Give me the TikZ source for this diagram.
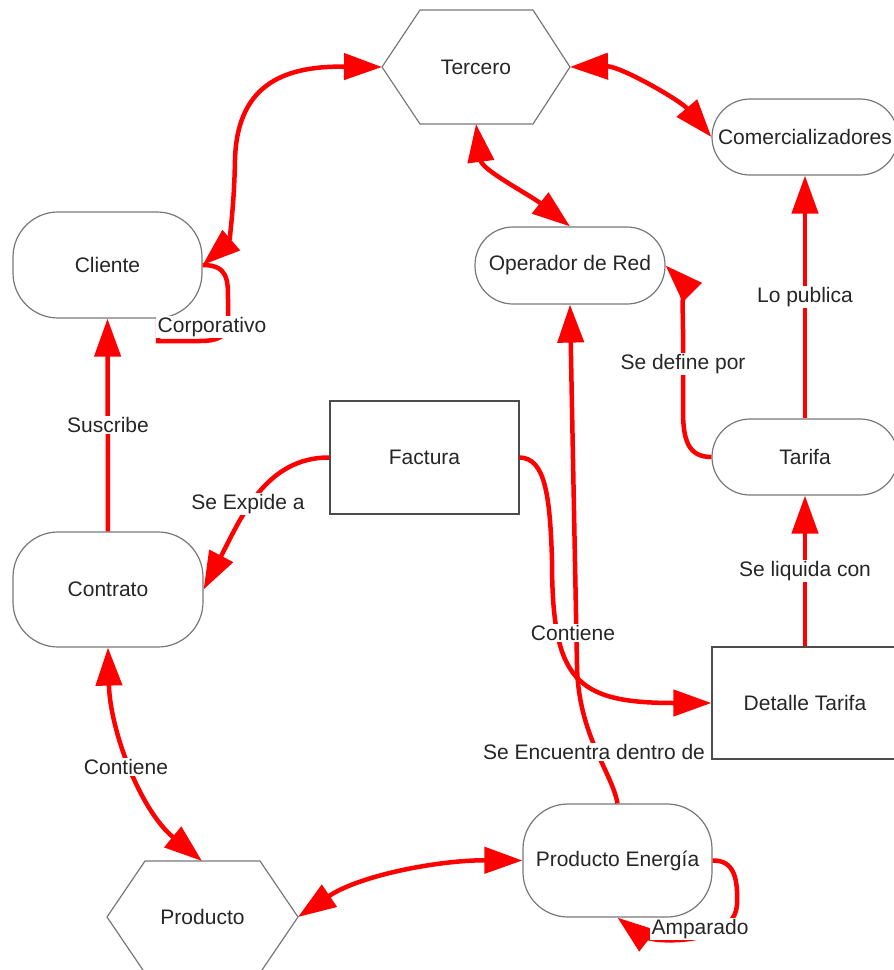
\documentclass[tikz,border=0pt]{standalone}
\usepackage{fontspec}
\setmainfont{Liberation Sans}
\usetikzlibrary{arrows.meta,calc}

\definecolor{rel}{RGB}{255,0,0}
\definecolor{frame}{RGB}{120,120,120}

\tikzset{
  every node/.style={font=\fontsize{21}{25}\selectfont, text=black!85},
  roundbox/.style={draw=frame, line width=1.2pt, fill=white, rounded corners=#1,
    inner sep=0pt, anchor=center},
  roundbox/.default=45pt,
  plainbox/.style={draw=black!70, line width=1.2pt, fill=white, inner sep=0pt, anchor=center},
  hexshape/.style={draw=frame, line width=1.2pt, fill=white},
  edge/.style={draw=rel, line width=4.5pt},
  tip/.style={-{Triangle[length=38pt,width=26pt]}},
  bitip/.style={{Triangle[length=38pt,width=26pt]}-{Triangle[length=38pt,width=26pt]}},
  rlabel/.style={fill=white, inner sep=1.5pt}
}

\begin{document}
\begin{tikzpicture}[x=1pt,y=-1pt]
\useasboundingbox (0,0) rectangle (894,970);
\clip (0,0) rectangle (894,970);

% hexagons
\draw[hexshape] (382,67) -- (420,10) -- (533,10) -- (570,67) -- (533,124) -- (420,124) -- cycle;
\node (tercero) at (476,67) {Tercero};
\coordinate (terW) at (382,67);
\coordinate (terE) at (570,67);
\coordinate (terS) at (476,124);

\draw[hexshape] (107,917) -- (145,861) -- (260,861) -- (298,917) -- (260,973) -- (145,973) -- cycle;
\node (producto) at (202.5,917) {Producto};
\coordinate (prodN) at (202,861);
\coordinate (prodE) at (298,917);

% rounded boxes
\node[roundbox, minimum width=189pt, minimum height=106pt] (cliente) at (107.5,265) {Cliente};
\node[roundbox, minimum width=190pt, minimum height=115pt] (contrato) at (108,589.5) {Contrato};
\node[roundbox=38pt, minimum width=190pt, minimum height=77pt] (opr) at (570,265.5) {Operador de Red};
\node[roundbox=38pt, minimum width=186pt, minimum height=76pt] (comerc) at (805,137) {Comercializadores};
\node[roundbox=38pt, minimum width=186pt, minimum height=76pt] (tarifa) at (805,457) {Tarifa};
\node[roundbox, minimum width=189pt, minimum height=113pt] (pe) at (617.5,860.5) {Producto Energía};

% plain boxes
\node[plainbox, minimum width=189pt, minimum height=113pt] (factura) at (424.5,457.5) {Factura};
\node[plainbox, minimum width=186pt, minimum height=112pt] (detalle) at (805,703) {Detalle Tarifa};

\coordinate (cliLoop) at (158,318);

% relations
\draw[edge,bitip] (terW) .. controls (290,66) and (237,80) .. (235,160)
  .. controls (234,215) and (228,243) .. (cliente.east);
\draw[edge] (cliente.east) .. controls (228,265) and (228,280) .. (228,300) -- (228,322)
  .. controls (228,338) and (215,341) .. (200,341) -- (158,341) -- (cliLoop);
\draw[edge,tip] (contrato.north) -- (cliente.south);
\draw[edge,tip] (factura.west) .. controls (265,457) and (240,520) .. (contrato.east);
\draw[edge,bitip] (contrato.south) .. controls (110,730) and (140,810) .. (prodN);
\draw[edge,bitip] (prodE) .. controls (360,875) and (440,860) .. (pe.west);
\draw[edge,tip] (pe.east) .. controls (735,860) and (738,880) .. (737,905)
  .. controls (735,935) and (690,942) .. (660,940) .. controls (648,939) and (640,935) .. (pe.south);
\draw[edge,tip] (pe.north) .. controls (612,772) and (578,735) .. (577,665) -- (opr.south);
\draw[edge,tip] (factura.east) .. controls (545,458) and (550,495) .. (552,560)
  .. controls (552,680) and (575,703) .. (detalle.west);
\draw[edge,tip] (detalle.north) -- (tarifa.south);
\draw[edge,tip] (tarifa.north) -- (comerc.south);
\draw[edge,tip] (tarifa.west) .. controls (688,457) and (683,440) .. (683,410) -- (683,330)
  .. controls (683,305) and (680,280) .. (opr.east);
\draw[edge,bitip] (terE) .. controls (620,66) and (680,100) .. (comerc.west);
\draw[edge,bitip] (terS) .. controls (482,170) and (530,195) .. (opr.north);

% relation labels
\node[rlabel] (lCorp) at (212,327) {Corporativo};
\node[rlabel] (lSus) at (108,425) {Suscribe};
\node[rlabel] (lExp) at (248,504) {Se Expide a};
\node[rlabel] (lCont1) at (126,767) {Contiene};
\node[rlabel] (lCont2) at (573,633) {Contiene};
\node[rlabel] (lEnc) at (594,752) {Se Encuentra dentro de};
\node[rlabel] (lDef) at (683,364) {Se define por};
\node[rlabel] (lPub) at (805,297) {Lo publica};
\node[rlabel] (lLiq) at (805,571) {Se liquida con};
\node[rlabel] (lAmp) at (700,929) {Amparado};
\end{tikzpicture}
\end{document}
